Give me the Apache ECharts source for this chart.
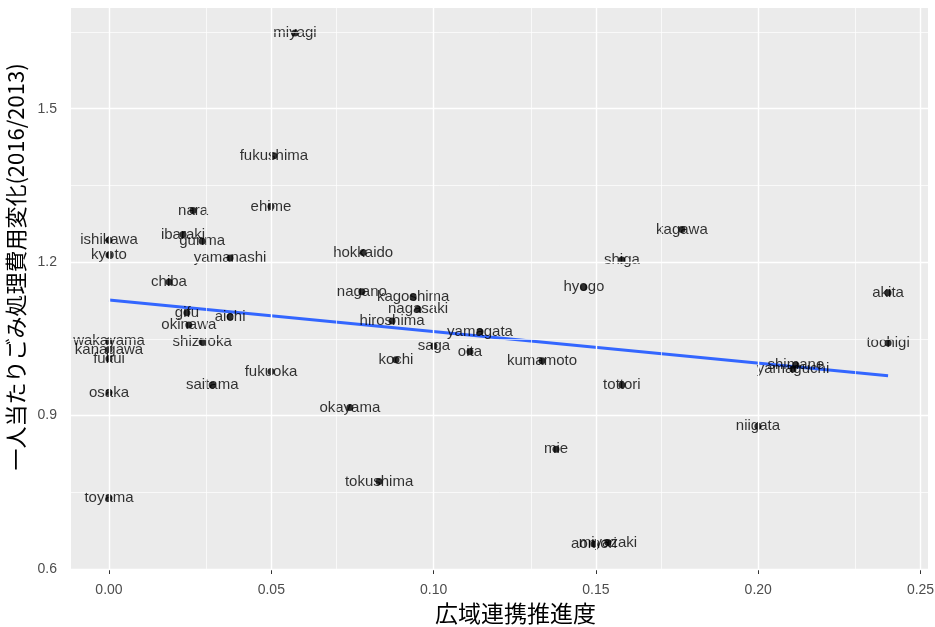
<!DOCTYPE html>
<html>
<head>
<meta charset="utf-8">
<script src="https://cdn.jsdelivr.net/npm/echarts@6/dist/echarts.min.js"></script>
<style>
  html, body { margin: 0; padding: 0; background: #ffffff; }
  #chart { width: 935px; height: 627px; }
</style>
</head>
<body>
<div id="chart"></div>
<script>
// Prefecture names, wide-area cooperation progress (x) and per-capita waste cost change 2016/2013 (y)
const prefectures = [
  'hokkaido', 'aomori', 'miyagi', 'akita', 'yamagata', 'fukushima', 'ibaraki', 'tochigi',
  'gunma', 'saitama', 'chiba', 'kanagawa', 'niigata', 'toyama', 'ishikawa', 'fukui',
  'yamanashi', 'nagano', 'gifu', 'shizuoka', 'aichi', 'mie', 'shiga', 'kyoto',
  'osaka', 'hyogo', 'nara', 'wakayama', 'tottori', 'shimane', 'okayama', 'hiroshima',
  'yamaguchi', 'tokushima', 'kagawa', 'ehime', 'kochi', 'fukuoka', 'saga', 'nagasaki',
  'kumamoto', 'oita', 'miyazaki', 'kagoshima', 'okinawa'
];
const cooperation = [
  0.0783, 0.1494, 0.0573, 0.2400, 0.1143, 0.0508, 0.0228, 0.2400,
  0.0287, 0.0318, 0.0185, 0.0000, 0.1999, 0.0000, 0.0000, 0.0000,
  0.0373, 0.0779, 0.0240, 0.0287, 0.0373, 0.1377, 0.1580, 0.0000,
  0.0000, 0.1463, 0.0259, 0.0000, 0.1580, 0.2116, 0.0742, 0.0872,
  0.2107, 0.0832, 0.1765, 0.0499, 0.0884, 0.0499, 0.1001, 0.0952,
  0.1334, 0.1112, 0.1537, 0.0937, 0.0246
];
const costChange = [
  1.219, 0.649, 1.648, 1.140, 1.064, 1.408, 1.254, 1.042,
  1.241, 0.960, 1.161, 1.029, 0.879, 0.739, 1.243, 1.011,
  1.208, 1.142, 1.101, 1.044, 1.093, 0.834, 1.204, 1.214,
  0.945, 1.151, 1.301, 1.046, 0.960, 0.999, 0.916, 1.085,
  0.991, 0.771, 1.264, 1.309, 1.009, 0.986, 1.036, 1.108,
  1.007, 1.025, 0.652, 1.132, 1.077
];

// Linear fit endpoints
const fitX = [0, 0.24];
const fitY = [1.126, 0.978];

// Axis ticks and panel grid
const xTicks = [0, 0.05, 0.10, 0.15, 0.20, 0.25];
const xMinor = [0.025, 0.075, 0.125, 0.175, 0.225];
const yTicks = [0.6, 0.9, 1.2, 1.5];
const yMinor = [0.75, 1.05, 1.35, 1.65];

const xTitle = '広域連携推進度';
const yTitle = '一人当たりごみ処理費用変化(2016/2013)';

const latinFont = '"Liberation Sans", Arial, sans-serif';
const cjkFont = '"Noto Sans CJK JP", "Noto Sans", sans-serif';

const points = prefectures.map((name, i) => ({ name, value: [cooperation[i], costChange[i]] }));
const fitLine = fitX.map((x, i) => [x, fitY[i]]);

const gridLines = [];
xTicks.forEach(v => gridLines.push({ xAxis: v, lineStyle: { width: 1.4 } }));
xMinor.forEach(v => gridLines.push({ xAxis: v, lineStyle: { width: 0.7 } }));
yTicks.forEach(v => gridLines.push({ yAxis: v, lineStyle: { width: 1.4 } }));
yMinor.forEach(v => gridLines.push({ yAxis: v, lineStyle: { width: 0.7 } }));

const chart = echarts.init(document.getElementById('chart'), null, { renderer: 'canvas' });

chart.setOption({
  animation: false,
  backgroundColor: '#ffffff',
  grid: {
    left: 71, right: 7, top: 8, bottom: 57,
    outerBoundsMode: 'none',
    containLabel: false,
    show: true, backgroundColor: '#EBEBEB', borderWidth: 0
  },
  xAxis: {
    type: 'value',
    min: -0.0117, max: 0.2523,
    name: xTitle,
    nameLocation: 'middle',
    nameGap: 25,
    nameTextStyle: { fontFamily: cjkFont, fontSize: 23, color: '#000000', padding: [0, 0, 0, 32] },
    axisLine: { show: false },
    axisTick: { show: true, length: 4, lineStyle: { color: '#333333', width: 1 }, customValues: xTicks },
    axisLabel: {
      customValues: xTicks,
      margin: 13,
      fontFamily: latinFont, fontSize: 14, color: '#4D4D4D',
      formatter: v => v.toFixed(2)
    },
    splitLine: { show: false }
  },
  yAxis: {
    type: 'value',
    min: 0.598, max: 1.697,
    name: yTitle,
    nameLocation: 'middle',
    nameRotate: 90,
    nameGap: 36,
    nameTextStyle: { fontFamily: cjkFont, fontSize: 22, color: '#000000', padding: [0, 0, 0, 44] },
    axisLine: { show: false },
    axisTick: { show: true, length: 4, lineStyle: { color: '#333333', width: 1 }, customValues: yTicks },
    axisLabel: {
      customValues: yTicks,
      margin: 14,
      fontFamily: latinFont, fontSize: 14, color: '#4D4D4D',
      formatter: v => v.toFixed(1)
    },
    splitLine: { show: false }
  },
  series: [
    {
      type: 'line',
      data: [],
      z: 0,
      silent: true,
      markLine: {
        silent: true,
        symbol: 'none',
        label: { show: false },
        lineStyle: { color: '#FFFFFF', type: 'solid' },
        data: gridLines
      }
    },
    {
      type: 'line',
      data: fitLine,
      z: 1,
      showSymbol: false,
      silent: true,
      lineStyle: { color: '#3366FF', width: 3 }
    },
    {
      type: 'scatter',
      data: points,
      z: 2,
      symbol: 'circle',
      symbolSize: 7,
      itemStyle: { color: '#000000' },
      label: {
        show: true,
        position: 'inside',
        offset: [0, -5],
        formatter: p => p.name,
        fontFamily: latinFont,
        fontSize: 15,
        color: '#000000'
      },
      labelLayout: { hideOverlap: false }
    }
  ]
});
</script>
</body>
</html>
